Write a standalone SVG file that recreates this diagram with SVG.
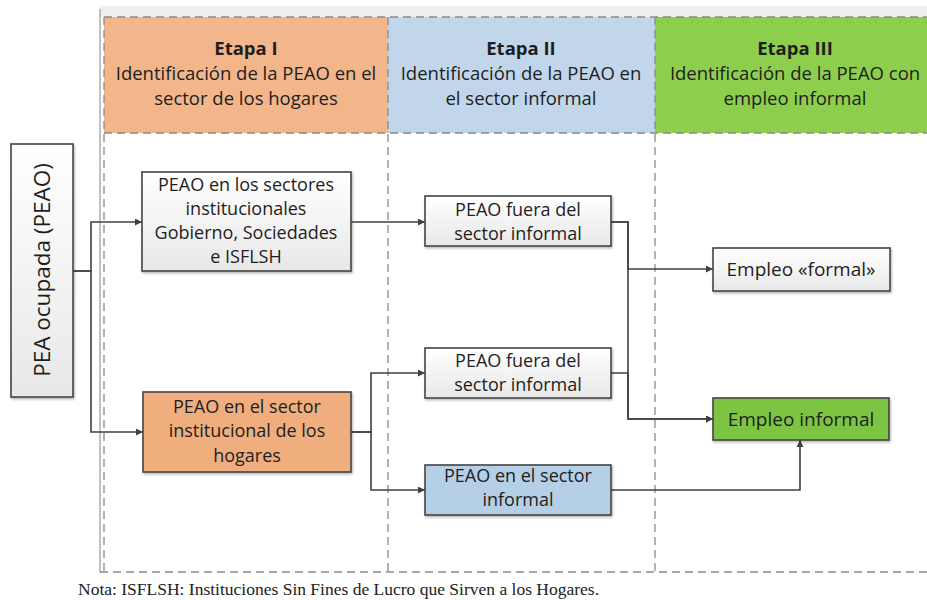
<svg xmlns="http://www.w3.org/2000/svg" width="927" height="600" viewBox="0 0 927 600">
<defs>
<linearGradient id="gw" x1="0" y1="0" x2="0" y2="1"><stop offset="0" stop-color="#ffffff"/><stop offset="1" stop-color="#e8e8e8"/></linearGradient>
<marker id="ah" viewBox="0 0 10 10" refX="10" refY="5" markerWidth="7" markerHeight="7" markerUnits="userSpaceOnUse" orient="auto"><path d="M0,0 L10,5 L0,10 z" fill="#404040"/></marker>
<filter id="sh" x="-5%" y="-5%" width="110%" height="115%"><feDropShadow dx="1" dy="1.5" stdDeviation="1" flood-color="#000" flood-opacity="0.3"/></filter>
</defs>
<style>
.t{font-family:"Open Sans","Noto Sans","Liberation Sans",sans-serif;fill:#1e1e1e;text-anchor:middle}
.h{font-size:18.5px}
.hb{font-weight:bold}
.n{font-size:18px}
.box{stroke:#444;stroke-width:1.6;filter:url(#sh)}
.dash{fill:none;stroke:#8a8a8a;stroke-width:1.3;stroke-dasharray:8,5}
.c{fill:none;stroke:#404040;stroke-width:1.6;marker-end:url(#ah)}
</style>
<rect width="927" height="600" fill="#fff"/>
<!-- frame -->
<rect x="100" y="6" width="827" height="11" fill="#efefef"/>
<line x1="100" y1="9" x2="100" y2="573" stroke="#9a9a9a" stroke-width="1.2"/>
<g id="etapa1"><rect x="104" y="17" width="284" height="116" fill="#f3b68b"/>
<text class="t h hb" x="246" y="55">Etapa I</text>
<text class="t h" x="246" y="80">Identificación de la PEAO en el</text>
<text class="t h" x="246" y="105">sector de los hogares</text></g>
<g id="etapa2"><rect x="388" y="17" width="267" height="116" fill="#c1d6ea"/>
<text class="t h hb" x="521" y="55">Etapa II</text>
<text class="t h" x="521" y="80">Identificación de la PEAO en</text>
<text class="t h" x="521" y="105">el sector informal</text></g>
<g id="etapa3"><rect x="655" y="17" width="272" height="116" fill="#8dcf4c"/>
<text class="t h hb" x="795" y="55">Etapa III</text>
<text class="t h" x="795" y="80">Identificación de la PEAO con</text>
<text class="t h" x="795" y="105">empleo informal</text></g>
<path class="dash" d="M104,17 H927 M104,133 H927 M104,17 V572 M388,17 V572 M655,17 V572 M100,572 H927"/>
<!-- connectors -->
<g id="connectors">
<path class="c" d="M73,271 H91 V222 H142"/>
<path class="c" d="M73,271 H91 V432 H143"/>
<path class="c" d="M351,222 H425"/>
<path class="c" d="M351,432 H371 V373 H425"/>
<path class="c" d="M351,432 H371 V490 H425"/>
<path class="c" d="M611,222 H628 V269 H713"/>
<path class="c" d="M611,222 H628 V419 H713"/>
<path class="c" d="M611,373 H628 V419 H713"/>
<path class="c" d="M611,490 H800 V440"/>
</g>
<g id="pea"><rect class="box" x="11" y="144" width="62" height="253" fill="url(#gw)"/>
<text class="t" font-size="22.5" transform="translate(50,270) rotate(-90)" x="0" y="0">PEA ocupada (PEAO)</text></g>
<g id="n1"><rect class="box" x="142" y="172" width="209" height="99" fill="url(#gw)"/>
<text class="t n" x="246" y="191">PEAO en los sectores</text>
<text class="t n" x="246" y="215">institucionales</text>
<text class="t n" x="246" y="239">Gobierno, Sociedades</text>
<text class="t n" x="246" y="263">e ISFLSH</text></g>
<g id="n2"><rect class="box" x="143" y="392" width="208" height="80" fill="#f0ae7e"/>
<text class="t n" x="247" y="413">PEAO en el sector</text>
<text class="t n" x="247" y="437">institucional de los</text>
<text class="t n" x="247" y="462">hogares</text></g>
<g id="n3"><rect class="box" x="425" y="196" width="186" height="50" fill="url(#gw)"/>
<text class="t n" x="518" y="216">PEAO fuera del</text>
<text class="t n" x="518" y="240">sector informal</text></g>
<g id="n4"><rect class="box" x="425" y="348" width="186" height="50" fill="url(#gw)"/>
<text class="t n" x="518" y="367">PEAO fuera del</text>
<text class="t n" x="518" y="391">sector informal</text></g>
<g id="n5"><rect class="box" x="425" y="465" width="186" height="50" fill="#b5cfe7"/>
<text class="t n" x="518" y="482">PEAO en el sector</text>
<text class="t n" x="518" y="506">informal</text></g>
<g id="n6"><rect class="box" x="713" y="248" width="177" height="43" fill="url(#gw)"/>
<text class="t" font-size="19" x="801" y="276">Empleo «formal»</text></g>
<g id="n7"><rect class="box" x="713" y="398" width="176" height="42" fill="#7cc443"/>
<text class="t" font-size="19" x="801" y="426" fill="#1a2a0a">Empleo informal</text></g>
<text x="78" y="595" font-family="Liberation Serif,serif" font-size="17.5" fill="#222">Nota: ISFLSH: Instituciones Sin Fines de Lucro que Sirven a los Hogares.</text>
</svg>
